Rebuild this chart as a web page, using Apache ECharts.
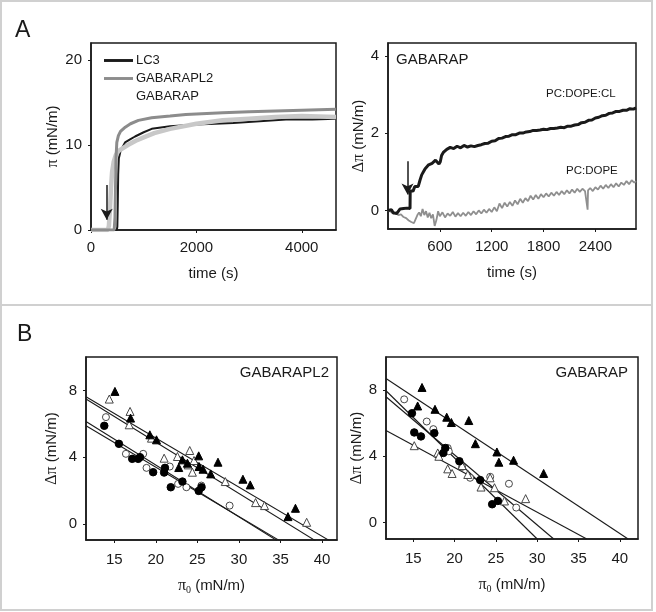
<!DOCTYPE html>
<html><head><meta charset="utf-8">
<script src="https://cdn.jsdelivr.net/npm/echarts@6/dist/echarts.min.js"></script>
<style>html,body{margin:0;padding:0;background:#fff}#c{width:656px;height:612px}</style>
</head><body><div id="c"></div>
<script>
// ---------- Panel A left: surface pressure vs time ----------
const lc3Trace = [[0,0],[490,0],[500,0.4],[508,3],[516,6.5],[528,8.4],[560,9.3],[646,10.3],[750,10.7],[836,11.0],[1000,11.5],[1153,11.9],[1500,12.2],[2000,12.4],[2700,12.6],[3200,12.8],[3700,13.0],[4200,13.0],[4650,13.1]];
const gabarapl2Trace = [[0,0],[440,0],[455,1.5],[465,5],[475,8.5],[490,10.3],[520,11.1],[560,11.6],[650,12.1],[750,12.5],[900,12.9],[1150,13.2],[1500,13.4],[1800,13.6],[2500,13.8],[3000,13.9],[3500,14.0],[4000,14.1],[4650,14.2]];
const gabarapTrace = [[0,0],[320,0],[340,0.5],[360,2.5],[380,5],[400,6.8],[430,8.0],[470,8.8],[520,9.3],[600,9.6],[700,10.0],[850,10.5],[1000,10.9],[1200,11.4],[1500,11.9],[2000,12.5],[2500,12.9],[3000,13.1],[3500,13.3],[4000,13.4],[4650,13.3]];
const tlArrow = [298, 5.3, 1.2];
const tlXTicks = [0, 2000, 4000];
const tlYTicks = [0, 10, 20];

// ---------- Panel A right: GABARAP on two lipid mixtures ----------
const clTrace = [[0,0],[20,-0.02],[40,0.02],[60,-0.06],[80,-0.02],[100,-0.08],[120,-0.03],[140,0.04],[160,0],[180,0.05],[200,0.02],[220,0.06],[240,0.04],[255,0.05],[257,0.5],[270,0.55],[290,0.5],[310,0.62],[330,0.66],[350,0.62],[370,0.78],[390,0.92],[410,1.0],[430,1.08],[450,1.12],[470,1.18],[490,1.15],[510,1.22],[530,1.26],[550,1.3],[570,1.27],[590,1.2],[605,1.26],[620,1.42],[640,1.5],[660,1.53],[680,1.58],[700,1.55],[720,1.63],[760,1.6],[800,1.66],[840,1.62],[880,1.68],[920,1.64],[960,1.67],[1000,1.65],[1040,1.68],[1080,1.7],[1120,1.73],[1160,1.74],[1200,1.79],[1240,1.8],[1280,1.86],[1320,1.87],[1360,1.91],[1400,1.92],[1440,1.96],[1480,1.96],[1520,2.0],[1560,2.0],[1600,2.03],[1640,2.04],[1680,2.07],[1720,2.07],[1760,2.08],[1800,2.1],[1840,2.09],[1880,2.12],[1920,2.12],[1960,2.13],[2000,2.15],[2040,2.14],[2080,2.18],[2120,2.18],[2160,2.21],[2200,2.22],[2240,2.27],[2280,2.28],[2320,2.33],[2360,2.34],[2400,2.39],[2440,2.41],[2480,2.45],[2520,2.46],[2560,2.51],[2600,2.52],[2640,2.56],[2680,2.56],[2720,2.59],[2760,2.59],[2800,2.63],[2840,2.62],[2870,2.65]];
const dopeTrace = [[0,0],[30,-0.03],[60,-0.08],[90,-0.06],[120,-0.12],[150,-0.1],[180,-0.17],[210,-0.2],[240,-0.26],[270,-0.3],[300,-0.33],[320,-0.3],[340,-0.12],[360,-0.05],[380,-0.15],[400,0.04],[420,-0.12],[440,-0.02],[460,-0.18],[480,-0.06],[500,-0.2],[520,-0.1],[540,-0.4],[560,-0.25],[580,-0.02],[600,-0.15],[630,-0.05],[660,-0.18],[690,-0.08],[720,-0.14],[750,-0.04],[780,-0.16],[810,-0.07],[840,-0.15],[870,-0.06],[900,-0.14],[930,-0.04],[960,-0.12],[990,-0.02],[1020,-0.1],[1050,0],[1080,-0.08],[1110,0.02],[1140,-0.06],[1170,0.04],[1200,-0.04],[1230,0.08],[1260,-0.02],[1290,0.18],[1320,0.06],[1350,0.2],[1380,0.1],[1410,0.22],[1440,0.12],[1470,0.26],[1500,0.16],[1530,0.3],[1560,0.2],[1590,0.32],[1620,0.24],[1650,0.38],[1680,0.28],[1710,0.4],[1740,0.3],[1770,0.42],[1800,0.34],[1830,0.44],[1860,0.36],[1890,0.46],[1920,0.38],[1950,0.48],[1980,0.4],[2010,0.5],[2040,0.42],[2070,0.52],[2100,0.44],[2130,0.54],[2160,0.46],[2190,0.56],[2220,0.48],[2250,0.56],[2280,0.5],[2300,0.52],[2310,0.02],[2315,0.52],[2340,0.58],[2370,0.5],[2400,0.6],[2430,0.54],[2460,0.64],[2490,0.56],[2520,0.66],[2550,0.58],[2580,0.68],[2610,0.6],[2640,0.7],[2670,0.62],[2700,0.72],[2730,0.66],[2760,0.76],[2790,0.68],[2820,0.78],[2850,0.72],[2870,0.76]];
const trArrow = [226, 1.27, 0.41];
const trXTicks = [600, 1200, 1800, 2400];
const trYTicks = [0, 2, 4];

// ---------- Panel B left: GABARAPL2 ----------
const blFilledTri = [[15.08,7.94],[16.96,6.34],[19.28,5.34],[20.08,5.04],[22.76,3.38],[23.2,3.84],[23.8,3.64],[25.16,4.08],[25.2,3.44],[25.68,3.28],[26.6,3.0],[27.48,3.7],[30.48,2.68],[31.36,2.34],[36.8,0.94],[35.9,0.44]];
const blOpenTri = [[14.4,7.48],[16.9,6.74],[16.8,5.94],[19.48,5.14],[21.0,3.94],[22.6,4.04],[24.08,4.4],[23.9,3.54],[24.4,3.1],[24.6,3.8],[28.36,2.54],[32.0,1.28],[33.08,1.1],[38.15,0.1]];
const blFilledCirc = [[13.8,5.88],[15.56,4.8],[17.16,3.9],[17.88,3.9],[18.1,4.0],[19.68,3.1],[21.0,3.08],[21.1,3.36],[21.8,2.2],[23.2,2.54],[25.16,1.98],[25.5,2.2]];
const blOpenCirc = [[14.0,6.4],[16.4,4.2],[18.48,4.2],[18.88,3.36],[21.68,3.44],[22.68,2.4],[23.68,2.2],[25.48,2.3],[28.88,1.1]];
const blFits = [[11.6,7.62,40.9,-1],[11.6,7.48,39.2,-1],[11.6,6.14,34.6,-1],[11.6,5.88,34.9,-1]];

// ---------- Panel B right: GABARAP ----------
const brFilledTri = [[16.06,8.16],[15.53,7.04],[17.63,6.84],[19.05,6.36],[19.61,6.04],[21.72,6.16],[22.52,4.76],[25.12,4.26],[25.36,3.64],[27.14,3.76],[30.78,2.96]];
const brOpenCirc = [[13.9,7.44],[16.63,6.1],[17.43,5.64],[19.17,4.5],[19.3,4.3],[20.91,3.36],[21.88,2.7],[24.31,2.76],[26.58,2.34],[27.46,0.9]];
const brFilledCirc = [[14.84,6.6],[15.12,5.44],[15.93,5.2],[17.55,5.4],[18.64,4.2],[18.88,4.5],[20.58,3.7],[23.1,2.56],[24.55,1.1],[25.24,1.3]];
const brOpenTri = [[15.12,4.64],[17.96,4.2],[18.1,4.0],[19.17,3.24],[19.7,2.96],[20.91,3.44],[21.6,2.9],[23.2,2.14],[24.3,2.7],[24.83,2.1],[26.04,1.3],[28.6,1.44]];
const brFits = [[11.7,8.7,41.0,-1],[11.7,7.96,30.0,-1],[11.7,7.6,32.0,-1],[11.7,5.56,36.0,-1]];

const bXTicks = [15, 20, 25, 30, 35, 40];
const bYTicks = [0, 4, 8];

// ---------- styling ----------
const FONT = "'Liberation Sans', Arial, sans-serif";
const SERIF = "'Liberation Serif', 'DejaVu Serif', serif";
const INK = '#1a1a1a';
const nameRich = {
  g: {fontFamily: SERIF, fontSize: 16, color: INK},
  s: {fontFamily: SERIF, fontSize: 10, color: INK, padding: [9, 0, 0, 0]}
};

function xAx(gi, min, max, ticks, name, gap, margin) {
  return {
    type: 'value', gridIndex: gi, min: min, max: max,
    name: name, nameLocation: 'middle', nameGap: gap,
    nameTextStyle: {fontFamily: FONT, fontSize: 15, color: INK, rich: nameRich},
    axisLine: {show: true, onZero: false, lineStyle: {color: INK, width: 1.5}},
    axisTick: {show: true, length: 3, customValues: ticks, lineStyle: {color: INK}},
    axisLabel: {customValues: ticks, margin: margin, fontFamily: FONT, fontSize: 15, color: INK,
      formatter: v => String(v)},
    splitLine: {show: false}
  };
}
function yAx(gi, min, max, ticks, name, gap, margin) {
  const a = xAx(gi, min, max, ticks, name, gap, margin);
  a.nameRotate = 90;
  return a;
}
function fitSeries(fits, xi) {
  return fits.map(f => ({
    type: 'line', xAxisIndex: xi, yAxisIndex: xi, data: [[f[0], f[1]], [f[2], f[3]]],
    showSymbol: false, symbol: 'none', clip: true, silent: true,
    lineStyle: {color: INK, width: 1.1}, z: 2
  }));
}
function scat(data, xi, symbol, open, size) {
  return {
    type: 'scatter', xAxisIndex: xi, yAxisIndex: xi, data: data, symbol: symbol, symbolSize: size,
    itemStyle: {color: open ? '#fff' : '#000', borderColor: open ? '#333' : '#000',
      borderWidth: open ? 0.9 : 1, opacity: 1}, z: 3, silent: true
  };
}
function trace(name, data, xi, color, width, z, arrow) {
  const s = {
    name: name, type: 'line', xAxisIndex: xi, yAxisIndex: xi, data: data,
    showSymbol: false, symbol: 'none', silent: true,
    lineStyle: {color: color, width: width}, itemStyle: {color: color}, z: z
  };
  if (arrow) {
    s.markLine = {
      silent: true, symbol: ['none', 'arrow'], symbolSize: [9, 11],
      label: {show: false},
      lineStyle: {color: INK, width: 1.5, type: 'solid'},
      data: [[{coord: [arrow[0], arrow[1]]}, {coord: [arrow[0], arrow[2]]}]]
    };
  }
  return s;
}

const option = {
  animation: false,
  backgroundColor: '#fff',
  textStyle: {fontFamily: FONT},
  grid: [
    {left: 91, top: 43, width: 245, height: 187, show: true, borderColor: INK, borderWidth: 1.5},
    {left: 388, top: 43, width: 248, height: 186, show: true, borderColor: INK, borderWidth: 1.5},
    {left: 86, top: 357, width: 251, height: 183, show: true, borderColor: INK, borderWidth: 1.5},
    {left: 386, top: 357, width: 252, height: 182, show: true, borderColor: INK, borderWidth: 1.5}
  ],
  xAxis: [
    xAx(0, 0, 4650, tlXTicks, 'time (s)', 36, 10),
    xAx(1, 0, 2870, trXTicks, 'time (s)', 36, 10),
    xAx(2, 11.6, 41.8, bXTicks, '{g|π}{s|0} (mN/m)', 36, 12),
    xAx(3, 11.7, 42.2, bXTicks, '{g|π}{s|0} (mN/m)', 36, 12)
  ],
  yAxis: [
    yAx(0, 0, 22, tlYTicks, '{g|π} (mN/m)', 30, 9),
    yAx(1, -0.48, 4.33, trYTicks, '{g|Δπ} (mN/m)', 21, 9),
    yAx(2, -0.96, 10, bYTicks, '{g|Δπ} (mN/m)', 26, 9),
    yAx(3, -1, 10, bYTicks, '{g|Δπ} (mN/m)', 19, 9)
  ],
  legend: {
    left: 99, top: 49, orient: 'vertical', itemWidth: 29, itemHeight: 10, itemGap: 5,
    selectedMode: false,
    textStyle: {fontFamily: FONT, fontSize: 13, color: INK, padding: [0, 0, 0, -2]},
    data: [
      {name: 'LC3', icon: 'path://M0,0 L10,0 L10,1 L0,1 Z'},
      {name: 'GABARAPL2', icon: 'path://M0,0 L10,0 L10,1 L0,1 Z'},
      {name: 'GABARAP', icon: 'path://M0,0 L10,0 L10,1 L0,1 Z', itemStyle: {opacity: 0}}
    ]
  },
  series: [
    trace('LC3', lc3Trace, 0, INK, 2, 3, null),
    trace('GABARAP', gabarapTrace, 0, '#c8c8c8', 4.5, 4, tlArrow),
    trace('GABARAPL2', gabarapl2Trace, 0, '#8c8c8c', 3, 5, null),
    trace('PC:DOPE', dopeTrace, 1, '#8f8f8f', 1.8, 3, trArrow),
    trace('PC:DOPE:CL', clTrace, 1, INK, 3, 4, null),
    ...fitSeries(blFits, 2),
    scat(blOpenCirc, 2, 'circle', true, 7),
    scat(blOpenTri, 2, 'triangle', true, 8),
    scat(blFilledCirc, 2, 'circle', false, 7.5),
    scat(blFilledTri, 2, 'triangle', false, 8),
    ...fitSeries(brFits, 3),
    scat(brOpenCirc, 3, 'circle', true, 7),
    scat(brOpenTri, 3, 'triangle', true, 8),
    scat(brFilledCirc, 3, 'circle', false, 7.5),
    scat(brFilledTri, 3, 'triangle', false, 8)
  ],
  graphic: [
    {type: 'rect', shape: {x: 1, y: 1, width: 651, height: 609}, style: {fill: 'none', stroke: '#d0d0d0', lineWidth: 2}, silent: true, z: 0},
    {type: 'line', shape: {x1: 1, y1: 305, x2: 652, y2: 305}, style: {stroke: '#d0d0d0', lineWidth: 2}, silent: true},
    {type: 'text', left: 15, top: 19, style: {text: 'A', font: '23px ' + FONT, fill: INK}},
    {type: 'text', left: 17, top: 323, style: {text: 'B', font: '23px ' + FONT, fill: INK}},
    {type: 'text', left: 396, top: 52, style: {text: 'GABARAP', font: '15px ' + FONT, fill: INK}},
    {type: 'text', left: 546, top: 88, style: {text: 'PC:DOPE:CL', font: '11.5px ' + FONT, fill: INK}},
    {type: 'text', left: 566, top: 165, style: {text: 'PC:DOPE', font: '11.5px ' + FONT, fill: INK}},
    {type: 'text', right: 656 - 329, top: 365, style: {text: 'GABARAPL2', font: '15px ' + FONT, fill: INK}},
    {type: 'text', right: 656 - 628, top: 365, style: {text: 'GABARAP', font: '15px ' + FONT, fill: INK}}
  ]
};
const chart = echarts.init(document.getElementById('c'), null, {renderer: 'canvas'});
chart.setOption(option);
</script></body></html>
